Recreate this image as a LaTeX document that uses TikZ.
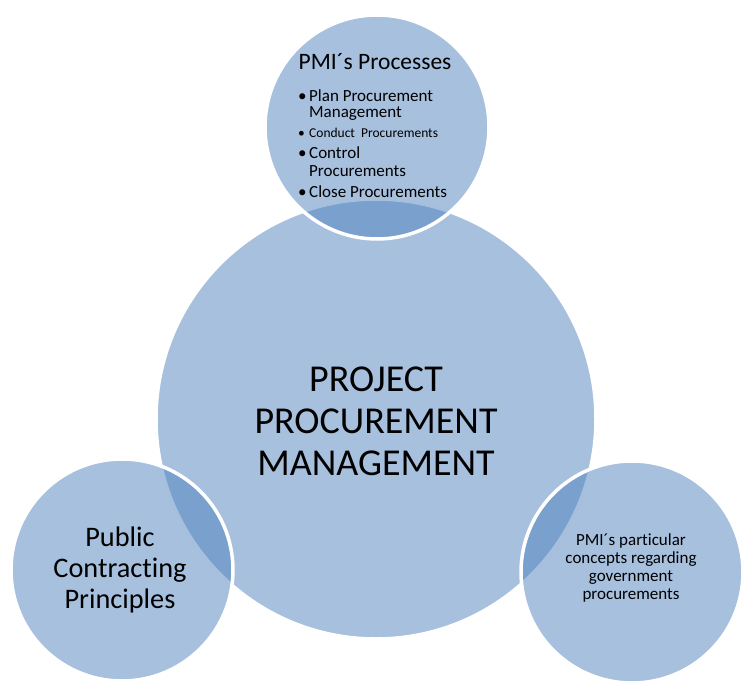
\documentclass[tikz,border=0pt]{standalone}
\usepackage{fontspec}
\setmainfont{Carlito}[Ligatures={NoCommon,NoContextual}]
\definecolor{accblue}{HTML}{4F81BD}
\tikzset{
  venn/.style={fill=accblue, fill opacity=0.5, draw=white, draw opacity=1, line width=3.5pt},
  lbl/.style={text=black, inner sep=0pt, align=center},
  item/.style={text=black, inner sep=0pt, anchor=base west},
}
\begin{document}
\begin{tikzpicture}[x=1pt,y=-1pt]
\useasboundingbox (0,0) rectangle (749,695);
% circles
\path[venn] (376,419) circle[radius=220];
\path[venn] (377,127) circle[radius=112];
\path[venn] (122,570) circle[radius=111];
\path[venn] (632,572) circle[radius=111];
% center text
\node[lbl, font=\fontsize{38}{42}\selectfont, anchor=base] (main) at (376,475) {PROJECT\\PROCUREMENT\\MANAGEMENT};
% top text
\node[text=black, inner sep=0pt, anchor=base, font=\fontsize{23.5}{25}\selectfont] (head) at (375,70) {PMI´s Processes};
\node[item, font=\fontsize{17}{18}\selectfont] (b1) at (298,101.5) {•};
\node[item, font=\fontsize{17}{18}\selectfont] (i1) at (309,101.5) {Plan Procurement};
\node[item, font=\fontsize{17}{18}\selectfont] (i1b) at (309,118) {Management};
\node[item, font=\fontsize{13.5}{13}\selectfont] (b2) at (298,138) {•};
\node[item, font=\fontsize{13.5}{13}\selectfont] (i2) at (309,138) {Conduct\ \ Procurements};
\node[item, font=\fontsize{17}{18}\selectfont] (b3) at (298,159) {•};
\node[item, font=\fontsize{17}{18}\selectfont] (i3) at (309,159) {Control};
\node[item, font=\fontsize{17}{18}\selectfont] (i3b) at (309,177) {Procurements};
\node[item, font=\fontsize{17}{18}\selectfont] (b4) at (298,197) {•};
\node[item, font=\fontsize{17}{18}\selectfont] (i4) at (309,197) {Close Procurements};
% left text
\node[lbl, font=\fontsize{28.3}{31}\selectfont, anchor=base] (left) at (120,608) {Public\\Contracting\\Principles};
% right text
\node[lbl, font=\fontsize{17}{17.7}\selectfont, anchor=base] (right) at (631,599) {PMI´s particular\\concepts regarding\\government\\procurements};
\end{tikzpicture}
\end{document}
